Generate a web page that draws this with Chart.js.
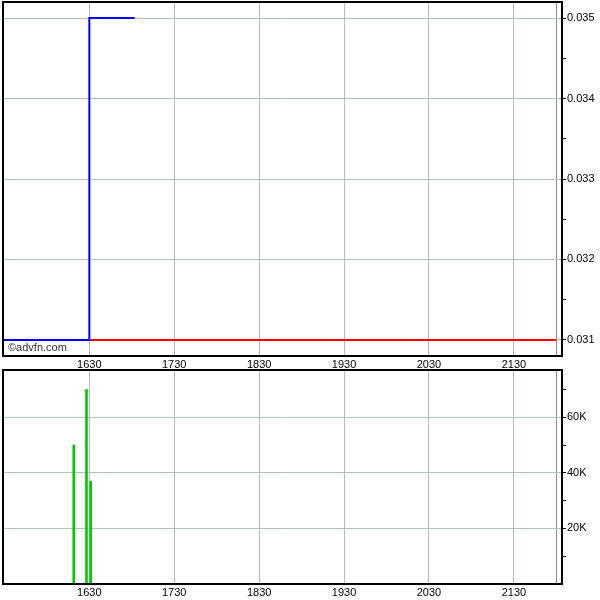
<!DOCTYPE html>
<html>
<head>
  <title>Price and Volume</title>
  <script src="https://cdn.jsdelivr.net/npm/chart.js"></script>
  <style>
    body { margin: 0; background-color: #fff; font-family: "Liberation Sans", Arial, sans-serif; }
    .wrap { position: relative; width: 600px; height: 600px; }
    #price-box { position: absolute; left: 0; top: 0; width: 600px; height: 368px; }
    #volume-box { position: absolute; left: 0; top: 368px; width: 600px; height: 232px; }
    .credit { position: absolute; left: 8px; top: 341px; font-size: 11px; color: #333; }
  </style>
</head>
<body>
  <div class="wrap">
    <div id="price-box"><canvas id="price-chart"></canvas></div>
    <div id="volume-box"><canvas id="volume-chart"></canvas></div>
    <div class="credit">&copy;advfn.com</div>
  </div>
  <script>
    // times are minutes after midnight
    const priceTimes = [929, 990, 990, 1022];
    const priceValues = [0.031, 0.031, 0.035, 0.035];
    const closeTimes = [990, 1320];
    const closeValues = [0.031, 0.031];
    const volumeTimes = [979, 988, 991];
    const volumeValues = [50000, 70000, 37000];

    const timeTicks = [990, 1050, 1110, 1170, 1230, 1290, 1320];
    const timeLabels = ['1630', '1730', '1830', '1930', '2030', '2130', ''];
    const priceTicks = [0.0310, 0.0315, 0.0320, 0.0325, 0.0330, 0.0335, 0.0340, 0.0345, 0.0350];
    const priceLabels = ['0.031', '', '0.032', '', '0.033', '', '0.034', '', '0.035'];
    const volumeTicks = [10000, 20000, 30000, 40000, 50000, 60000, 70000];
    const volumeLabels = ['', '20K', '', '40K', '', '60K', ''];

    const gridGrey = "#b4bebe";
    const font = { family: "'Liberation Sans', Arial, sans-serif", size: 11 };

    const framePlugin = {
      id: 'frame',
      afterDraw(chart) {
        const a = chart.chartArea;
        const ctx = chart.ctx;
        ctx.save();
        ctx.strokeStyle = '#000';
        ctx.lineWidth = 2;
        ctx.strokeRect(a.left, a.top, a.right - a.left, a.bottom - a.top);
        ctx.restore();
      }
    };

    function timeAxis(labelsShown) {
      return {
        type: 'linear',
        min: 929,
        max: 1324,
        offset: false,
        afterBuildTicks: (axis) => { axis.ticks = timeTicks.map(v => ({ value: v })); },
        afterFit: (axis) => { axis.height = labelsShown; },
        ticks: {
          autoSkip: false,
          maxRotation: 0,
          padding: 2,
          color: '#000',
          font: font,
          callback: (v, i) => timeLabels[i]
        },
        grid: {
          offset: false,
          drawTicks: false,
          color: (c) => c.tick && c.tick.value === 1320 ? '#909090' : gridGrey
        },
        border: { display: false }
      };
    }

    function valueAxis(ticksArr, labelsArr, min, max) {
      return {
        type: 'linear',
        position: 'right',
        min: min,
        max: max,
        afterBuildTicks: (axis) => { axis.ticks = ticksArr.map(v => ({ value: v })); },
        afterFit: (axis) => {
          axis.width = 38;
          axis.paddingTop = 0;
          axis.paddingBottom = 0;
        },
        ticks: {
          autoSkip: false,
          padding: 1,
          color: '#000',
          font: font,
          callback: (v, i) => labelsArr[i]
        },
        grid: {
          tickLength: 4,
          tickColor: '#000',
          color: (c) => c.tick && labelsArr[c.index] ? gridGrey : 'rgba(0,0,0,0)'
        },
        border: { display: false }
      };
    }

    const priceChart = new Chart(document.getElementById('price-chart'), {
      type: 'line',
      data: {
        datasets: [{
          label: 'Price',
          data: priceTimes.map((t, i) => ({ x: t, y: priceValues[i] })),
          borderColor: '#0000ff',
          borderWidth: 2,
          pointRadius: 0,
          tension: 0
        },
        {
          label: 'Previous close',
          data: closeTimes.map((t, i) => ({ x: t, y: closeValues[i] })),
          borderColor: '#ff0000',
          borderWidth: 2,
          pointRadius: 0,
          tension: 0
        }]
      },
      options: {
        responsive: true,
        maintainAspectRatio: false,
        animation: false,
        layout: { padding: { left: 3, top: 2, right: 0, bottom: 0 } },
        plugins: { legend: { display: false }, tooltip: { enabled: false } },
        scales: {
          x: timeAxis(12),
          y: valueAxis(priceTicks, priceLabels, 0.0308, 0.0352)
        }
      },
      plugins: [framePlugin]
    });

    const volumeChart = new Chart(document.getElementById('volume-chart'), {
      type: 'bar',
      data: {
        datasets: [{
          label: 'Volume',
          data: volumeTimes.map((t, i) => ({ x: t, y: volumeValues[i] })),
          backgroundColor: '#00cc00',
          barThickness: 2
        }]
      },
      options: {
        responsive: true,
        maintainAspectRatio: false,
        animation: false,
        layout: { padding: { left: 3, top: 2, right: 0, bottom: 0 } },
        plugins: { legend: { display: false }, tooltip: { enabled: false } },
        scales: {
          x: timeAxis(16),
          y: valueAxis(volumeTicks, volumeLabels, 0, 77000)
        }
      },
      plugins: [framePlugin]
    });
  </script>
</body>
</html>
